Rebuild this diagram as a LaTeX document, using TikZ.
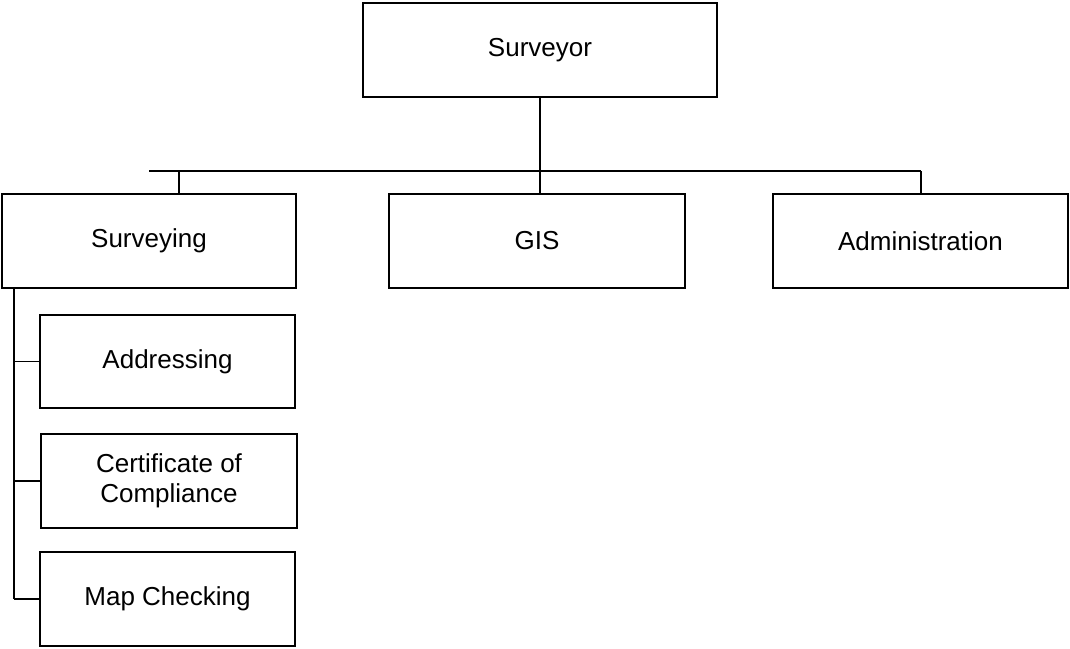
\documentclass[tikz,border=0pt]{standalone}
\usepackage{fontspec}
\setmainfont{Liberation Sans}
\usepackage{pgf,tikz}
\usetikzlibrary{shapes, calc, positioning}
\newcommand\boxh{94}

\begin{document}
\begin{tikzpicture}[x=1pt, y=-1pt, line width=1.8pt,
  unit/.style={draw, rectangle, align=center, inner sep=0pt, minimum height=\boxh pt,
               font=\fontsize{26}{30}\selectfont}]

\useasboundingbox (0,0) rectangle (1070,648);

\node[unit, minimum width=354pt] (surveyor)    at (540,50)      {Surveyor};

\node[unit, minimum width=294pt] (surveying)   at (149,241)     {Surveying};
\node[unit, minimum width=296pt] (gis)         at (537,241)     {GIS};
\node[unit, minimum width=295pt] (admin)       at (920.5,241)   {Administration};

\node[unit, minimum width=255pt, minimum height=93pt] (addressing) at (167.5,361.5) {Addressing};
\node[unit, minimum width=256pt] (certificate) at (169,481)     {Certificate of\\Compliance};
\node[unit, minimum width=255pt] (mapcheck)    at (167.5,599)   {Map Checking};

\coordinate (barL)  at (149,171);
\coordinate (barR)  at (921,171);
\coordinate (tickS) at (179,171);
\coordinate (tickG) at (540,171);
\coordinate (spine) at (14,0);

\draw (barL) -- (barR);
\draw (surveyor.south) -- (surveyor.south |- gis.north);
\draw (tickS) -- (tickS |- surveying.north);
\draw (barR) -- (barR |- admin.north);

\draw (spine |- surveying.south) -- (spine |- mapcheck.west);
\foreach \n in {addressing, certificate, mapcheck}
   \draw (spine |- \n.west) -- (\n.west);

\end{tikzpicture}
\end{document}
